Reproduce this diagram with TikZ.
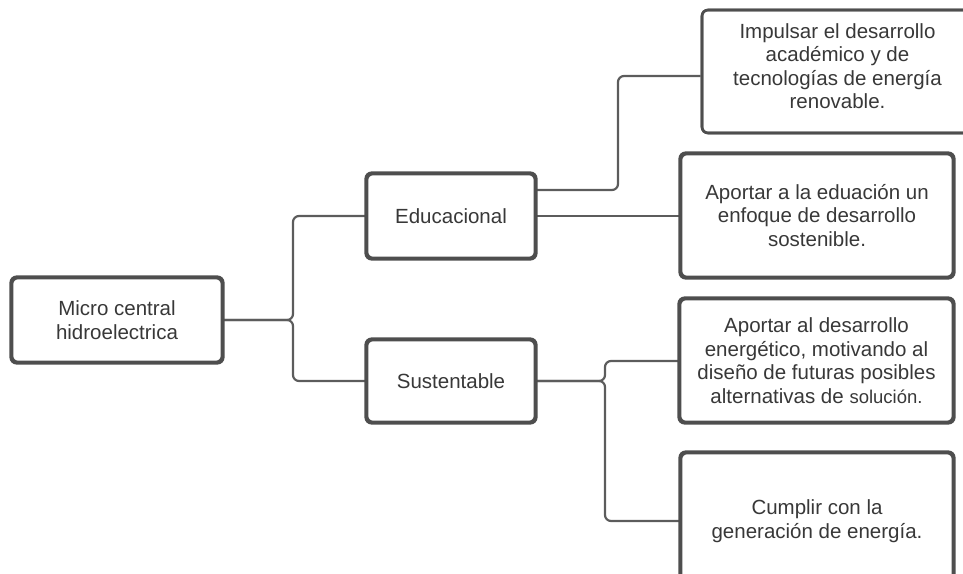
\documentclass[tikz,border=0pt]{standalone}
\usepackage{fontspec}
\setmainfont{Liberation Sans}
\definecolor{boxgray}{HTML}{4E4E4E}
\definecolor{linegray}{HTML}{5C5C5C}
\definecolor{textgray}{HTML}{383838}
\tikzset{
  mapbox/.style={draw=boxgray, line width=2.6pt, rounded corners=6pt, fill=white,
    text=textgray, align=center, inner sep=0pt,
    font=\fontsize{20.5}{23.5}\selectfont},
  link/.style={draw=linegray, line width=2.2pt, rounded corners=6pt},
}
\newcommand{\smalltxt}[1]{{\fontsize{18.5}{23.5}\selectfont #1}}
\begin{document}
\begin{tikzpicture}[x=1pt, y=-1pt]
  \useasboundingbox (0,0) rectangle (963,573);
  \clip (0,0) rectangle (963,573);

  % root and first level
  \node[mapbox, minimum width=210pt, minimum height=84pt] (root) at (117,320)
    {Micro central\\hidroelectrica};
  \node[mapbox, minimum width=168pt, minimum height=84pt] (edu) at (451,216)
    {Educacional};
  \node[mapbox, minimum width=168pt, minimum height=82pt] (sus) at (451,381)
    {Sustentable};

  % second level
  \node[mapbox, minimum width=271pt, minimum height=123pt] (b1) at (837.5,71.5)
    {\\[-19pt]Impulsar el desarrollo\\académico y de\\tecnologías de energía\\renovable.};
  \node[mapbox, minimum width=272pt, minimum height=123pt] (b2) at (817,215.5)
    {Aportar a la eduación un\\enfoque de desarrollo\\sostenible.};
  \node[mapbox, minimum width=273pt, minimum height=123pt] (b3) at (816.5,360.5)
    {Aportar al desarrollo\\energético, motivando al\\diseño de futuras posibles\\alternativas de \smalltxt{solución.}};
  \node[mapbox, minimum width=272pt, minimum height=136pt] (b4) at (817,521)
    {Cumplir con la\\generación de energía.};

  % connectors from the root
  \draw[link] (root.east) -- (293,320) -- (293,216) -- (edu.west);
  \draw[link] (root.east) -- (293,320) -- (293,381) -- (sus.west);

  % connectors from Educacional
  \draw[link] ([yshift=26pt]edu.east) -- (618,190) -- (618,76) -- (b1.west |- 0,76);
  \draw[link] (edu.east) -- (b2.west |- edu.east);

  % connectors from Sustentable
  \draw[link] (sus.east) -- (605,381) -- (605,361) -- (b3.west |- 0,361);
  \draw[link] (sus.east) -- (605,381) -- (605,521) -- (b4.west |- 0,521);

  % boxes redrawn over the line ends
  \foreach \n in {root,edu,sus,b2,b3,b4}{
    \draw[boxgray, line width=2.6pt, rounded corners=6pt] (\n.south west) rectangle (\n.north east);
  }
  \draw[boxgray, line width=2.6pt, rounded corners=6pt] (702,10) rectangle (973,133);
\end{tikzpicture}
\end{document}
